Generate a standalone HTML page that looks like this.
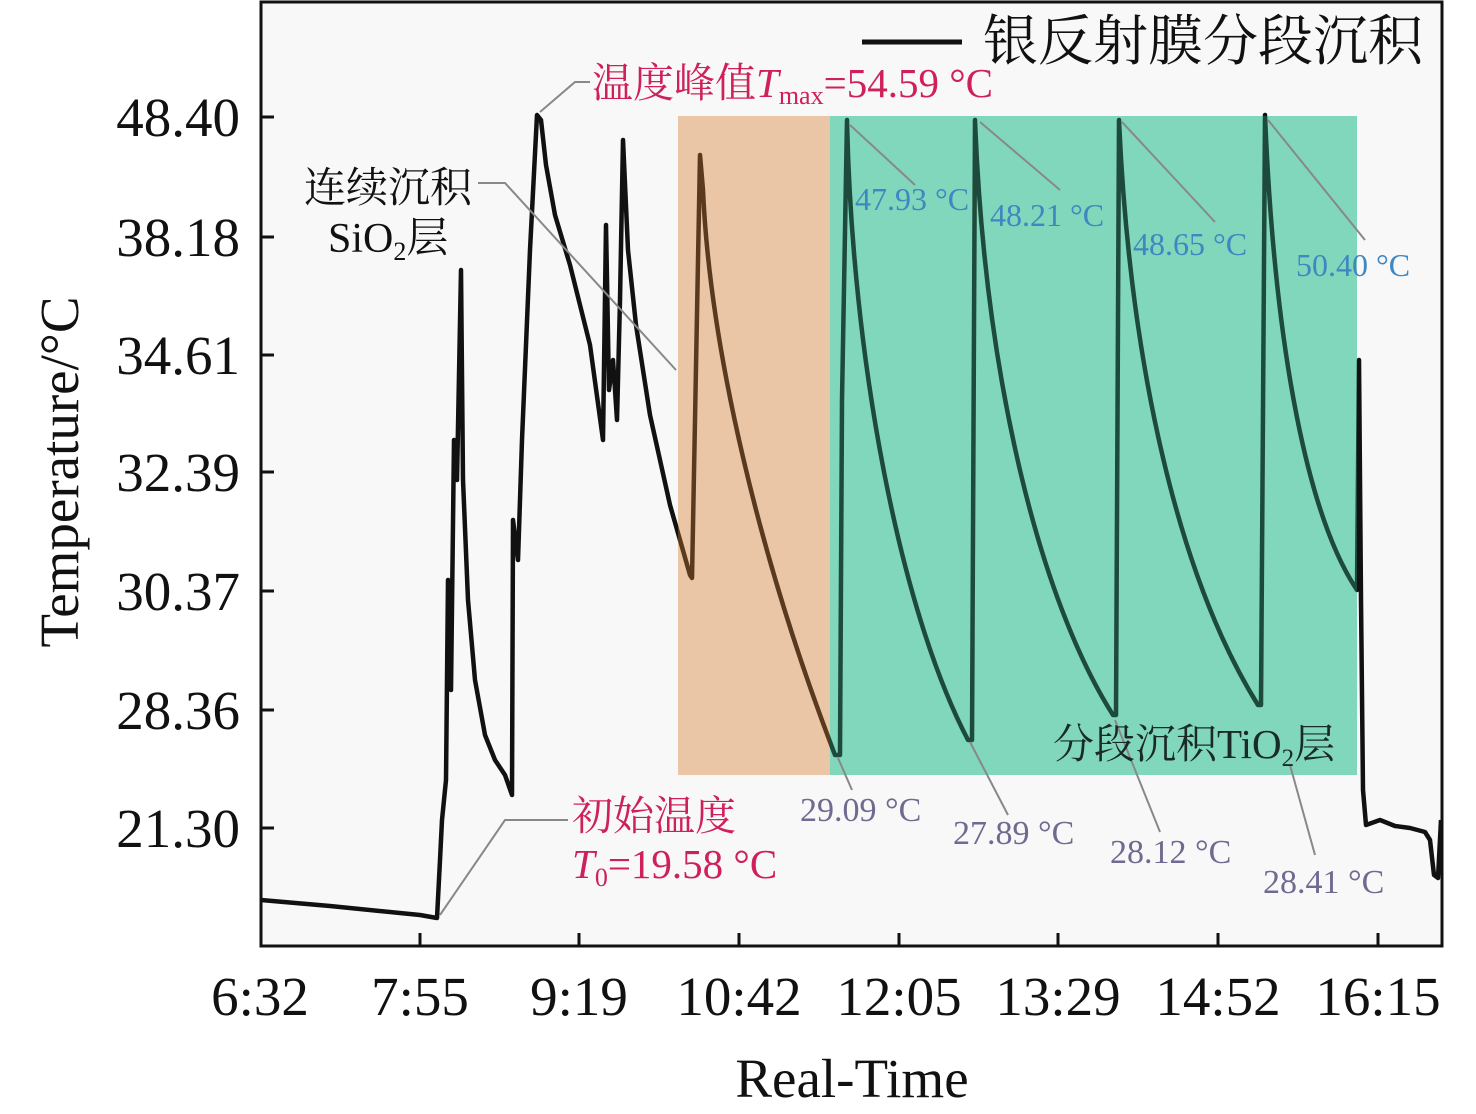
<!DOCTYPE html>
<html><head><meta charset="utf-8"><style>
html,body{margin:0;padding:0;background:#fff;}
svg{display:block;}
text{font-family:"Liberation Serif","Noto Serif CJK SC","Noto Sans CJK SC",serif;}
</style></head><body>
<svg width="1476" height="1114" viewBox="0 0 1476 1114" xmlns="http://www.w3.org/2000/svg">
<defs>
<clipPath id="cOut"><path d="M0,0H1476V1114H0Z M678,116V775H1357V116Z" clip-rule="evenodd"/></clipPath>
<clipPath id="cOr"><rect x="678" y="116" width="152" height="659"/></clipPath>
<clipPath id="cGr"><rect x="830" y="116" width="527" height="659"/></clipPath>
<path id="curve" d="M261,900 L330,906 L420,915 L437,918 L440,860 L442,820 L446,780 L448,580 L451,690 L454,440 L457,480 L461,270 L463,480 L468,600 L475,680 L485,735 L495,760 L505,775 L512,795 L513,520 L518,560 L522,440 L530,250 L537,115 L541,120 L546,165 L555,215 L570,265 L590,345 L603,440 L606,225 L609,390 L613,360 L617,420 L620,300 L623,140 L628,250 L636,325 L650,415 L670,505 L690,575 L692,578 L695,420 L700,155 L703,190 C710,350 760,560 835,755 L840,755 L842,400 L847,120 C852,360 900,610 968,740 L972,740 L975,120 C985,380 1040,600 1113,715 L1116,715 L1119,120 C1130,370 1180,580 1258,705 L1261,705 L1265,115 C1275,360 1310,520 1357,590 L1359,360 L1361,600 L1363,790 L1366,825 L1380,820 L1395,826 L1410,828 L1425,832 L1430,840 L1434,875 L1438,878 L1441,820" fill="none" stroke-width="4.5" stroke-linejoin="round"/>
</defs>
<rect x="0" y="0" width="1476" height="1114" fill="#fff"/>
<rect x="261" y="2" width="1181" height="944" fill="#f8f8f8"/>
<rect x="678" y="116" width="152" height="659" fill="#ebc6a6"/>
<rect x="830" y="116" width="527" height="659" fill="#80d7bc"/>
<use href="#curve" stroke="#111" clip-path="url(#cOut)"/>
<use href="#curve" stroke="#5a3a1e" clip-path="url(#cOr)"/>
<use href="#curve" stroke="#1d4a3a" clip-path="url(#cGr)"/>
<g stroke="#888" stroke-width="2" fill="none">
<polyline points="540,112 575,82 590,82"/>
<polyline points="478,183 505,183 676,370"/>
<polyline points="440,915 505,820 568,820"/>
<line x1="850" y1="125" x2="915" y2="185"/>
<line x1="980" y1="122" x2="1060" y2="190"/>
<line x1="1122" y1="122" x2="1215" y2="222"/>
<line x1="1268" y1="120" x2="1365" y2="240"/>
<line x1="838" y1="758" x2="852" y2="790"/>
<line x1="970" y1="742" x2="1008" y2="815"/>
<line x1="1115" y1="720" x2="1160" y2="832"/>
<line x1="1290" y1="765" x2="1315" y2="855"/>
</g>
<g stroke="#111" stroke-width="3" fill="none">
<rect x="261" y="2" width="1181" height="944"/>
<line x1="261" y1="117" x2="274" y2="117"/><line x1="261" y1="237" x2="274" y2="237"/>
<line x1="261" y1="355" x2="274" y2="355"/><line x1="261" y1="472" x2="274" y2="472"/>
<line x1="261" y1="591" x2="274" y2="591"/><line x1="261" y1="710" x2="274" y2="710"/>
<line x1="261" y1="828" x2="274" y2="828"/>
<line x1="420" y1="946" x2="420" y2="933"/><line x1="579" y1="946" x2="579" y2="933"/>
<line x1="739" y1="946" x2="739" y2="933"/><line x1="899" y1="946" x2="899" y2="933"/>
<line x1="1058" y1="946" x2="1058" y2="933"/><line x1="1218" y1="946" x2="1218" y2="933"/>
<line x1="1378" y1="946" x2="1378" y2="933"/>
</g>
<g font-size="55" fill="#111" text-anchor="end">
<text x="240" y="136">48.40</text><text x="240" y="256">38.18</text>
<text x="240" y="374">34.61</text><text x="240" y="491">32.39</text>
<text x="240" y="610">30.37</text><text x="240" y="729">28.36</text>
<text x="240" y="847">21.30</text>
</g>
<g font-size="55" fill="#111" text-anchor="middle">
<text x="260" y="1015">6:32</text><text x="420" y="1015">7:55</text>
<text x="579" y="1015">9:19</text><text x="739" y="1015">10:42</text>
<text x="899" y="1015">12:05</text><text x="1058" y="1015">13:29</text>
<text x="1218" y="1015">14:52</text><text x="1378" y="1015">16:15</text>
<text x="852" y="1097">Real-Time</text>
<text transform="translate(78,472) rotate(-90)">Temperature/°C</text>
</g>
<line x1="862" y1="42" x2="962" y2="42" stroke="#111" stroke-width="5"/>
<text x="983" y="60" font-size="55" fill="#111">银反射膜分段沉积</text>
<text x="592" y="97" font-size="41" fill="#cf2159">温度峰值<tspan font-style="italic">T</tspan><tspan font-size="26" dy="7">max</tspan><tspan dy="-7">=54.59 °C</tspan></text>
<text x="304" y="202" font-size="42" fill="#111">连续沉积</text>
<text x="328" y="252" font-size="42" fill="#111">SiO<tspan font-size="26" dy="8">2</tspan><tspan dy="-8">层</tspan></text>
<text x="572" y="830" font-size="41" fill="#cf2159">初始温度</text>
<text x="572" y="878" font-size="41" fill="#cf2159"><tspan font-style="italic">T</tspan><tspan font-size="26" dy="8">0</tspan><tspan dy="-8">=19.58 °C</tspan></text>
<g font-size="32" fill="#3f87c0">
<text x="855" y="210">47.93 °C</text><text x="990" y="226">48.21 °C</text>
<text x="1133" y="255">48.65 °C</text><text x="1296" y="276">50.40 °C</text>
</g>
<g font-size="34" fill="#6e6a90">
<text x="800" y="821">29.09 °C</text><text x="953" y="844">27.89 °C</text>
<text x="1110" y="863">28.12 °C</text><text x="1263" y="893">28.41 °C</text>
</g>
<text x="1053" y="758" font-size="41" fill="#1a2a24">分段沉积TiO<tspan font-size="25" dy="8">2</tspan><tspan dy="-8">层</tspan></text>
</svg>
</body></html>
